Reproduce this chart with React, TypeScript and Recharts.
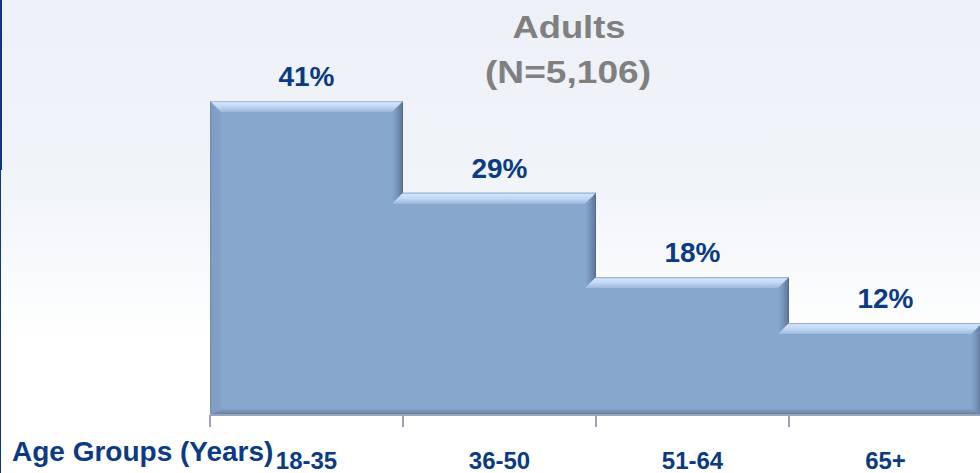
import { Bar, BarChart, LabelList, XAxis, YAxis } from "recharts";

const ageGroups = ["18-35", "36-50", "51-64", "65+"];
const adultShares = [41, 29, 18, 12];
const chartTitle = "Adults";
const sampleSize = "(N=5,106)";
const axisTitle = "Age Groups (Years)";

const NAVY = "#0b3b84";
const FACE = "#88a7cd";
const FONT = "Arial, 'Liberation Sans', sans-serif";

const data = ageGroups.map((group, i) => ({ group, share: adultShares[i] }));

const pts = (arr: number[][]) => arr.map((p) => p.join(",")).join(" ");

// Excel-style bevelled column; later columns tuck slightly under the previous one
const BevelBar = (props: any) => {
  const { x, y, width: w, height: h, index } = props;
  if (!h || h <= 0) return null;
  const b = 11;
  const bb = 6;
  const ext = index > 0 ? b : 0;
  const left = x - ext;
  return (
    <g>
      <polygon
        points={pts([[x, y], [x + w, y], [x + w, y + h], [left, y + h], [left, y + ext]])}
        fill={FACE}
      />
      <polygon
        points={pts([[x + w, y], [x + w, y + h], [x + w - b, y + h - bb], [x + w - b, y + b]])}
        fill="url(#bevelRight)"
      />
      <polygon
        points={pts(
          index === 0
            ? [[x, y + h], [x + b, y + h - bb], [x + w - b, y + h - bb], [x + w, y + h]]
            : [[left, y + h], [left, y + h - bb], [x + w - b, y + h - bb], [x + w, y + h]]
        )}
        fill="url(#bevelBottom)"
      />
      {index === 0 && (
        <polygon
          points={pts([[x, y], [x + b, y + b], [x + b, y + h - bb], [x, y + h]])}
          fill="url(#bevelLeft)"
        />
      )}
      <polygon
        points={pts(
          index === 0
            ? [[x, y], [x + w, y], [x + w - b, y + b], [x + b, y + b]]
            : [[x, y], [x + w, y], [x + w - b, y + b], [left, y + b]]
        )}
        fill="url(#bevelTop)"
      />
    </g>
  );
};

const GroupTick = (props: any) => {
  const { x, y, payload } = props;
  const half = payload?.offset ?? 0;
  return (
    <g>
      <line x1={x - half} x2={x - half} y1={y} y2={y + 12} stroke="#9aa3bb" strokeWidth={2} />
      <text
        x={x}
        y={y + 54}
        textAnchor="middle"
        fill={NAVY}
        fontSize={24}
        fontWeight="bold"
        fontFamily={FONT}
      >
        {payload.value}
      </text>
    </g>
  );
};

export default function App() {
  return (
    <div
      style={{
        position: "absolute",
        left: 0,
        top: 0,
        width: 980,
        height: 473,
        overflow: "hidden",
        background: "linear-gradient(#edf1f7 0%, #f1f4f9 40%, #ffffff 72%, #ffffff 100%)",
      }}
    >
      <svg width={0} height={0} style={{ position: "absolute" }}>
        <defs>
          <linearGradient id="bevelTop" x1="0" y1="0" x2="0" y2="1">
            <stop offset="0" stopColor="#8aa4c8" />
            <stop offset="0.15" stopColor="#d0e4fa" />
            <stop offset="0.5" stopColor="#c2d8f3" />
            <stop offset="1" stopColor="#9cb8dc" />
          </linearGradient>
          <linearGradient id="bevelRight" x1="0" y1="0" x2="1" y2="0">
            <stop offset="0" stopColor={FACE} />
            <stop offset="0.45" stopColor="#7894ba" />
            <stop offset="0.85" stopColor="#627c9f" />
            <stop offset="1" stopColor="#4f6587" />
          </linearGradient>
          <linearGradient id="bevelLeft" x1="0" y1="0" x2="1" y2="0">
            <stop offset="0" stopColor="#6e8bb3" />
            <stop offset="0.2" stopColor="#7f9dc5" />
            <stop offset="1" stopColor="#84a2c9" />
          </linearGradient>
          <linearGradient id="bevelBottom" x1="0" y1="0" x2="0" y2="1">
            <stop offset="0" stopColor="#849fc4" />
            <stop offset="0.5" stopColor="#748fb3" />
            <stop offset="1" stopColor="#5e7597" />
          </linearGradient>
        </defs>
      </svg>

      <BarChart
        width={982}
        height={473}
        data={data}
        margin={{ top: 32, right: 0, left: 210, bottom: 0 }}
        barCategoryGap={0}
        barGap={0}
      >
        <YAxis hide width={0} domain={[0, 50]} />
        <XAxis
          dataKey="group"
          height={58}
          tickSize={0}
          tickMargin={0}
          tickLine={false}
          axisLine={{ stroke: "#9ba4bd", strokeWidth: 2 }}
          interval={0}
          tick={(p: any) => <GroupTick {...p} />}
        />
        <Bar dataKey="share" isAnimationActive={false} shape={BevelBar}>
          <LabelList
            dataKey="share"
            position="top"
            offset={15}
            formatter={(v: any) => `${v}%`}
            fill={NAVY}
            fontSize={28}
            fontWeight="bold"
            fontFamily={FONT}
          />
        </Bar>
      </BarChart>

      <svg
        width={980}
        height={473}
        style={{ position: "absolute", left: 0, top: 0, pointerEvents: "none" }}
      >
        <rect x={0} y={0} width={2} height={170} fill="#0d3880" />
        <rect x={0} y={170} width={1} height={303} fill="#0d3880" />
        <text
          x={569}
          y={38}
          textAnchor="middle"
          fill="#808080"
          fontSize={32}
          fontWeight="bold"
          fontFamily={FONT}
          textLength={113}
          lengthAdjust="spacingAndGlyphs"
        >
          {chartTitle}
        </text>
        <text
          x={568}
          y={83}
          textAnchor="middle"
          fill="#808080"
          fontSize={32}
          fontWeight="bold"
          fontFamily={FONT}
          textLength={166}
          lengthAdjust="spacingAndGlyphs"
        >
          {sampleSize}
        </text>
        <text x={12} y={461} fill={NAVY} fontSize={28} fontWeight="bold" fontFamily={FONT}>
          {axisTitle}
        </text>
      </svg>
    </div>
  );
}
